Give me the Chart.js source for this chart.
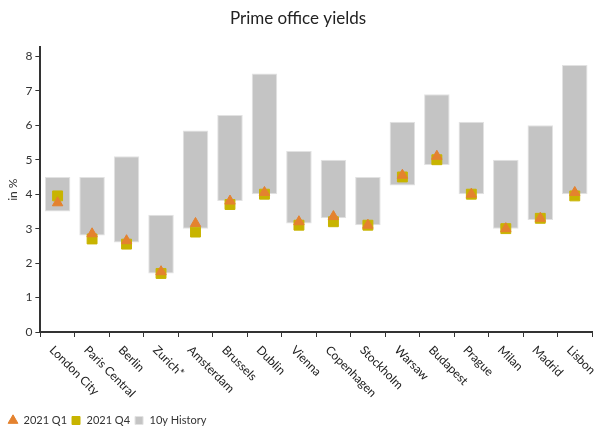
<!DOCTYPE html>
<html>
<head>
<meta charset="utf-8">
<script src="https://cdn.jsdelivr.net/npm/chart.js@4"></script>
<style>
  body { margin: 0; background: #fff; }
</style>
</head>
<body>
<canvas id="yieldChart" width="600" height="428"></canvas>
<script>
const cities = ['London City', 'Paris Central', 'Berlin', 'Zurich*', 'Amsterdam', 'Brussels', 'Dublin', 'Vienna',
    'Copenhagen', 'Stockholm', 'Warsaw', 'Budapest', 'Prague', 'Milan', 'Madrid', 'Lisbon'];
const histLow  = [3.5, 2.8, 2.6, 1.7, 3.0, 3.8, 4.0, 3.15, 3.3, 3.1, 4.25, 4.85, 4.0, 3.0, 3.25, 4.0];
const histHigh = [4.5, 4.5, 5.1, 3.4, 5.85, 6.3, 7.5, 5.25, 5.0, 4.5, 6.1, 6.9, 6.1, 5.0, 6.0, 7.75];
const q1Values = [3.75, 2.85, 2.65, 1.75, 3.15, 3.8, 4.05, 3.2, 3.35, 3.1, 4.55, 5.1, 4.0, 3.0, 3.3, 4.05];
const q4Values = [3.95, 2.7, 2.55, 1.7, 2.9, 3.7, 4.0, 3.1, 3.2, 3.1, 4.5, 5.0, 4.0, 3.0, 3.3, 3.95];
const yTicks = [0, 1, 2, 3, 4, 5, 6, 7, 8];

const FONT = 'Lato, "Open Sans", sans-serif';
const AXIS = '#333333';

// 45도로 기울어진 x축 라벨 (틱 아래에서 오른쪽 아래로)
const slantedLabels = {
    id: 'slantedLabels',
    afterDraw(chart) {
        const xs = chart.scales.x;
        const ctx = chart.ctx;
        ctx.save();
        ctx.font = '12px ' + FONT;
        ctx.fillStyle = '#222';
        ctx.textAlign = 'left';
        ctx.textBaseline = 'middle';
        cities.forEach((name, i) => {
            const px = xs.getPixelForValue(i);
            ctx.save();
            ctx.translate(px - 6, xs.top + 16);
            ctx.rotate(Math.PI / 4);
            ctx.fillText(name, 0, 0);
            ctx.restore();
        });
        ctx.restore();
    }
};

const ctx = document.getElementById('yieldChart').getContext('2d');
new Chart(ctx, {
    type: 'bar',
    data: {
        labels: cities,
        datasets: [
            {
                type: 'line',
                label: '2021 Q1',
                data: q1Values,
                showLine: false,
                pointStyle: 'triangle',
                pointRadius: 6,
                pointBackgroundColor: '#e4822f',
                pointBorderColor: '#e4822f',
                backgroundColor: '#e4822f',
                borderColor: '#e4822f',
                order: 0
            },
            {
                type: 'line',
                label: '2021 Q4',
                data: q4Values,
                showLine: false,
                pointStyle: 'rect',
                pointRadius: 7,
                pointBackgroundColor: '#c8b400',
                pointBorderColor: '#c8b400',
                backgroundColor: '#c8b400',
                borderColor: '#c8b400',
                order: 1
            },
            {
                label: '10y History',
                data: histLow.map((lo, i) => [lo, histHigh[i]]),
                backgroundColor: '#c4c4c4',
                borderColor: '#e2e2e2',
                borderWidth: 1,
                borderSkipped: false,
                pointStyle: 'rect',
                barPercentage: 0.74,
                categoryPercentage: 1,
                order: 2
            }
        ]
    },
    options: {
        responsive: false,
        animation: false,
        layout: { padding: { left: 4, right: 8, top: 0, bottom: -8 } },
        plugins: {
            title: {
                display: true,
                text: 'Prime office yields',
                color: '#222',
                font: { family: FONT, size: 17, weight: 'normal' },
                padding: { top: 8, bottom: 19 }
            },
            legend: {
                position: 'bottom',
                align: 'start',
                labels: {
                    usePointStyle: true,
                    boxWidth: 10,
                    boxHeight: 8,
                    padding: 4,
                    color: '#333',
                    font: { family: FONT, size: 11 }
                }
            },
            tooltip: { enabled: false }
        },
        scales: {
            x: {
                offset: true,
                grid: { display: true, drawOnChartArea: false, offset: true, tickLength: 5, color: AXIS },
                border: { display: true, color: AXIS, width: 2 },
                ticks: { display: false },
                afterFit(scale) { scale.height = 79; }
            },
            y: {
                min: 0,
                max: 8.26,
                afterBuildTicks(scale) {
                    scale.ticks = yTicks.map(v => ({ value: v }));
                },
                grid: { display: true, drawOnChartArea: false, tickLength: 5, color: AXIS },
                border: { display: true, color: AXIS, width: 2 },
                ticks: {
                    color: '#333',
                    padding: 3,
                    font: { family: FONT, size: 12 }
                },
                title: {
                    display: true,
                    text: 'in %',
                    color: '#333',
                    padding: 2,
                    font: { family: FONT, size: 12 }
                }
            }
        }
    },
    plugins: [slantedLabels]
});
</script>
</body>
</html>
